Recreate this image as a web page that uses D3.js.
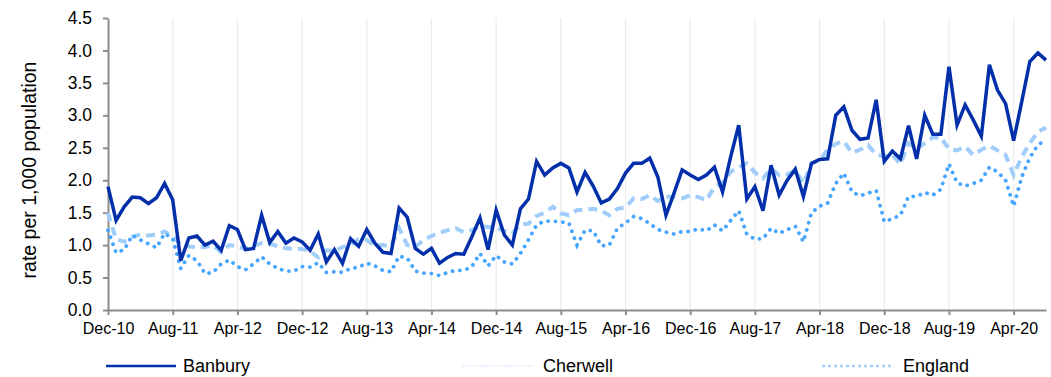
<!DOCTYPE html>
<html><head><meta charset="utf-8">
<script src="https://cdnjs.cloudflare.com/ajax/libs/d3/7.8.5/d3.min.js"></script>
<style>
body{margin:0;background:#fff;}
text{font-family:"Liberation Sans",Arial,sans-serif;fill:#000;}
</style></head>
<body><svg id="c" width="1051" height="377"></svg>
<script>
const startMonth = new Date(2010, 11, 1);
const monthCount = 117;
const tickLabels = ["Dec-10","Aug-11","Apr-12","Dec-12","Aug-13","Apr-14","Dec-14","Aug-15","Apr-16","Dec-16","Aug-17","Apr-18","Dec-18","Aug-19","Apr-20"];
const yTicks = [0,0.5,1,1.5,2,2.5,3,3.5,4,4.5];
const seriesNames = ["Banbury","Cherwell","England"];

const banbury = [1.90,1.38,1.59,1.74,1.73,1.64,1.73,1.95,1.70,0.76,1.11,1.14,1.00,1.06,0.92,1.30,1.24,0.93,0.95,1.46,
1.04,1.21,1.03,1.11,1.05,0.92,1.17,0.74,0.93,0.72,1.10,0.98,1.24,1.03,0.89,0.87,1.57,1.43,0.95,0.86,
0.95,0.72,0.81,0.87,0.86,1.13,1.42,0.93,1.54,1.16,1.00,1.56,1.71,2.29,2.08,2.19,2.26,2.19,1.82,2.12,
1.91,1.65,1.71,1.87,2.11,2.26,2.26,2.34,2.05,1.46,1.80,2.16,2.08,2.01,2.08,2.20,1.82,2.36,2.85,1.71,
1.90,1.53,2.23,1.77,2.00,2.17,1.75,2.26,2.32,2.33,3.00,3.13,2.77,2.63,2.65,3.24,2.29,2.45,2.33,2.84,
2.33,3.00,2.71,2.71,3.75,2.85,3.16,2.93,2.68,3.78,3.39,3.18,2.61,3.21,3.83,3.96,3.85];

const cherwell = [1.23,0.88,0.93,1.15,1.08,1.02,0.96,1.18,1.10,0.64,0.84,0.76,0.56,0.58,0.71,0.77,0.67,0.62,0.71,0.82,
0.71,0.64,0.60,0.60,0.67,0.66,0.73,0.58,0.59,0.58,0.64,0.66,0.72,0.68,0.61,0.59,0.83,0.80,0.60,0.57,
0.56,0.53,0.58,0.61,0.61,0.67,0.87,0.68,0.84,0.74,0.71,0.87,1.08,1.31,1.37,1.37,1.36,1.34,1.00,1.23,
1.22,0.99,1.00,1.26,1.34,1.44,1.41,1.33,1.24,1.20,1.17,1.21,1.21,1.25,1.22,1.31,1.22,1.38,1.53,1.17,
1.09,1.10,1.26,1.18,1.24,1.29,1.05,1.50,1.60,1.65,1.95,2.11,1.82,1.76,1.80,1.84,1.36,1.41,1.46,1.75,
1.75,1.81,1.77,1.86,2.25,1.96,1.91,1.95,2.00,2.20,2.13,2.00,1.60,2.05,2.35,2.54,2.63];

const england = [1.50,1.09,1.05,1.13,1.16,1.15,1.16,1.21,1.13,1.02,0.98,0.97,0.97,1.00,0.89,1.00,0.98,0.94,0.99,1.03,
1.02,0.98,0.95,0.94,0.94,0.91,0.81,0.92,0.91,0.97,1.01,1.09,1.08,0.99,1.00,0.98,1.26,1.00,0.97,1.08,
1.14,1.19,1.23,1.26,1.20,1.23,1.29,1.28,1.27,1.22,1.18,1.32,1.33,1.45,1.50,1.59,1.49,1.46,1.54,1.54,
1.56,1.53,1.46,1.56,1.58,1.72,1.71,1.77,1.68,1.75,1.74,1.72,1.77,1.74,1.69,1.90,1.96,2.13,2.20,2.26,
2.12,2.03,2.18,2.08,2.09,2.15,1.95,2.26,2.31,2.47,2.56,2.60,2.42,2.47,2.54,2.39,2.37,2.39,2.25,2.57,
2.48,2.57,2.66,2.66,2.48,2.46,2.52,2.39,2.47,2.53,2.46,2.39,2.08,2.36,2.57,2.75,2.81];

const fmt = d3.timeFormat("%b-%y");
const categories = d3.timeMonth.range(startMonth, d3.timeMonth.offset(startMonth, monthCount)).map(fmt);

const svg = d3.select("#c");
const m = {l:108, r:1046, t:18, b:310};
const x = d3.scalePoint().domain(categories).range([m.l, m.r]);
const y = d3.scaleLinear().domain([0,4.5]).range([m.b, m.t]);

// vertical gridlines
svg.append("g").selectAll("line").data(tickLabels.slice(1)).join("line")
  .attr("x1", d=>x(d)).attr("x2", d=>x(d)).attr("y1", y(0)).attr("y2", y(4.5))
  .attr("stroke", "#ebebeb").attr("stroke-width", 1.2);

// axes
const xAxis = svg.append("g").attr("transform", `translate(0,${y(0)})`)
  .call(d3.axisBottom(x).tickValues(tickLabels).tickSize(5).tickPadding(8).tickSizeOuter(0));
xAxis.selectAll("text").attr("font-size", 16);
const yAxis = svg.append("g").attr("transform", `translate(${m.l},0)`)
  .call(d3.axisLeft(y).tickValues(yTicks).tickFormat(d3.format(".1f")).tickSize(5).tickPadding(11).tickSizeOuter(0));
yAxis.selectAll("text").attr("font-size", 17.5);
[xAxis, yAxis].forEach(a => {
  a.select(".domain").attr("stroke", "#8c8c8c").attr("stroke-width", 2);
  a.selectAll(".tick line").attr("stroke", "#8c8c8c").attr("stroke-width", 2);
  a.selectAll("text").attr("font-family", "Liberation Sans, Arial, sans-serif").attr("fill", "#000");
});

svg.append("text").attr("transform", `translate(36,${(m.t+m.b)/2+6}) rotate(-90)`)
  .attr("text-anchor", "middle").attr("font-size", 19.5).text("rate per 1,000 population");

const line = d3.line().x((d,i)=>x(categories[i])).y(d=>y(d));
const styles = {
  Banbury: {data: banbury, stroke: "#0330aa", width: 3.5, dash: null, cap: "butt"},
  England: {data: england, stroke: "#a0cdfa", width: 4, dash: "9,6", cap: "butt"},
  Cherwell: {data: cherwell, stroke: "#46a5ff", width: 3.8, dash: "0.1,7.3", cap: "round"}
};
["England","Cherwell","Banbury"].forEach(n => {
  const s = styles[n];
  svg.append("path").datum(s.data).attr("d", line).attr("fill", "none")
    .attr("stroke", s.stroke).attr("stroke-width", s.width).attr("stroke-linejoin", "miter")
    .attr("stroke-linecap", s.cap).attr("stroke-dasharray", s.dash);
});

// legend
const legend = [
  {name: seriesNames[0], x1: 106, x2: 176, tx: 183, stroke: "#0330aa", width: 2.5, dash: null},
  {name: seriesNames[1], x1: 462, x2: 532, tx: 543, stroke: "#d5e8fb", width: 1.5, dash: "1.5,1.5"},
  {name: seriesNames[2], x1: 822, x2: 892, tx: 903, stroke: "#a6d0fa", width: 2.5, dash: "3,3"}
];
const lg = svg.append("g");
legend.forEach(l => {
  lg.append("line").attr("x1", l.x1).attr("x2", l.x2).attr("y1", 366).attr("y2", 366)
    .attr("stroke", l.stroke).attr("stroke-width", l.width).attr("stroke-dasharray", l.dash);
  lg.append("text").attr("x", l.tx).attr("y", 372).attr("font-size", 18).text(l.name);
});
</script></body></html>
